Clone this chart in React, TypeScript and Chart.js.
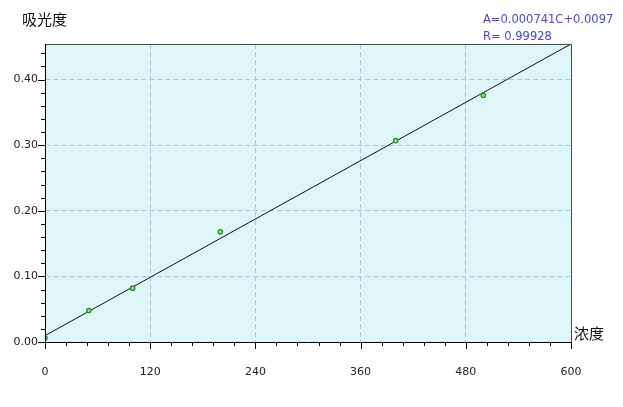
import { useEffect, useRef } from "react";
import { Chart, registerables } from "chart.js";

Chart.register(...registerables);

// Calibration data
const concentrations = [0, 50, 100, 200, 400, 500];
const absorbances = [0.006, 0.048, 0.082, 0.168, 0.307, 0.376];
// Regression
const slope = 0.000741;
const intercept = 0.0097;
const equationText = "A=0.000741C+0.0097";
const rText = "R= 0.99928";
// Axes
const xMin = 0;
const xMax = 600;
const xMajor = 120;
const xMinor = 24;
const yMin = 0;
const yMax = 0.4543;
const yMajor = 0.1;
const yMinor = 0.02;
const yTitle = "吸光度";
const xTitle = "浓度";

const fitXs = [xMin, xMax];

const isMajor = (v: number, step: number) =>
  Math.abs(v / step - Math.round(v / step)) < 1e-6;

const framePlugin = {
  id: "framePlugin",
  beforeDraw(chart: any) {
    const { ctx, chartArea } = chart;
    const { left, top, right, bottom } = chartArea;
    ctx.save();
    ctx.fillStyle = "#ffffff";
    ctx.fillRect(0, 0, chart.width, chart.height);
    ctx.fillStyle = "#def6f8";
    ctx.fillRect(left, top, right - left, bottom - top);
    ctx.restore();
  },
  afterDraw(chart: any) {
    const { ctx, chartArea, scales } = chart;
    const { left, top, right, bottom } = chartArea;
    const xs = scales.x;
    const ys = scales.y;
    ctx.save();
    // frame top & right
    ctx.strokeStyle = "#4a4a4a";
    ctx.lineWidth = 1;
    ctx.beginPath();
    ctx.moveTo(left, top + 0.5);
    ctx.lineTo(right + 0.5, top + 0.5);
    ctx.lineTo(right + 0.5, bottom);
    ctx.stroke();
    // axes
    ctx.strokeStyle = "#000000";
    ctx.beginPath();
    ctx.moveTo(left + 0.5, top);
    ctx.lineTo(left + 0.5, bottom + 0.5);
    ctx.lineTo(right + 1, bottom + 0.5);
    ctx.stroke();
    // ticks
    ctx.beginPath();
    xs.ticks.forEach((t: any) => {
      const px = Math.round(xs.getPixelForValue(t.value)) + 0.5;
      const len = isMajor(t.value, xMajor) ? 7 : 4;
      ctx.moveTo(px, bottom);
      ctx.lineTo(px, bottom + len);
    });
    ys.ticks.forEach((t: any) => {
      const py = Math.round(ys.getPixelForValue(t.value)) + 0.5;
      const len = isMajor(t.value, yMajor) ? 7 : 4;
      ctx.moveTo(left, py);
      ctx.lineTo(left - len, py);
    });
    ctx.stroke();
    // titles
    ctx.fillStyle = "#111111";
    ctx.textBaseline = "middle";
    ctx.textAlign = "left";
    ctx.font = '15px "Noto Sans CJK SC"';
    ctx.fillText(yTitle, 22, 19);
    ctx.fillText(xTitle, right + 3, bottom - 9);
    // equation
    ctx.fillStyle = "#4545ff";
    ctx.font = '11.5px "DejaVu Sans"';
    ctx.fillText(equationText, 483, 20);
    ctx.fillText(rText, 483, 37);
    ctx.restore();
  },
};

export default function App() {
  const canvasRef = useRef<HTMLCanvasElement | null>(null);

  useEffect(() => {
    document.body.style.margin = "0";
    const canvas = canvasRef.current;
    if (!canvas) return;
    const chart = new Chart(canvas, {
      type: "scatter",
      data: {
        datasets: [
          {
            type: "line",
            label: "fit",
            data: fitXs.map((x) => ({ x, y: slope * x + intercept })),
            borderColor: "#111111",
            borderWidth: 1,
            pointRadius: 0,
            fill: false,
            order: 2,
          },
          {
            label: "samples",
            data: concentrations.map((c, i) => ({ x: c, y: absorbances[i] })),
            pointRadius: 2.2,
            pointBorderWidth: 1.3,
            borderColor: "#1f9a1f",
            backgroundColor: "#9ddc9d",
            order: 1,
          },
        ],
      },
      options: {
        animation: false,
        responsive: false,
        devicePixelRatio: 1,
        layout: { padding: { left: 0, top: 44, right: 52, bottom: 0 } },
        plugins: {
          legend: { display: false },
          tooltip: { enabled: false },
        },
        scales: {
          x: {
            type: "linear",
            min: xMin,
            max: xMax,
            afterFit: (s: any) => {
              s.height = 65;
            },
            ticks: {
              stepSize: xMinor,
              autoSkip: false,
              maxRotation: 0,
              padding: 24,
              color: "#222222",
              font: { family: "DejaVu Sans", size: 11 },
              callback: (v: any) => (isMajor(Number(v), xMajor) ? String(v) : ""),
            },
            grid: {
              drawTicks: false,
              lineWidth: 1,
              color: (ctx: any) =>
                isMajor(ctx.tick.value, xMajor) && ctx.tick.value > xMin
                  ? "#a6c6f2"
                  : "rgba(0,0,0,0)",
            },
            border: { display: false, dash: [5, 3] },
          },
          y: {
            type: "linear",
            min: yMin,
            max: yMax,
            afterFit: (s: any) => {
              s.width = 45;
            },
            ticks: {
              stepSize: yMinor,
              includeBounds: false,
              autoSkip: false,
              padding: 7,
              color: "#222222",
              font: { family: "DejaVu Sans", size: 11 },
              callback: (v: any) =>
                isMajor(Number(v), yMajor) ? Number(v).toFixed(2) : "",
            },
            grid: {
              drawTicks: false,
              lineWidth: 1,
              color: (ctx: any) =>
                isMajor(ctx.tick.value, yMajor) && ctx.tick.value > yMin
                  ? "#a6c6f2"
                  : "rgba(0,0,0,0)",
            },
            border: { display: false, dash: [5, 3] },
          },
        },
      },
      plugins: [framePlugin],
    });
    return () => chart.destroy();
  }, []);

  return (
    <div style={{ width: 623, height: 407 }}>
      <canvas ref={canvasRef} width={623} height={407} style={{ display: "block" }} />
    </div>
  );
}
